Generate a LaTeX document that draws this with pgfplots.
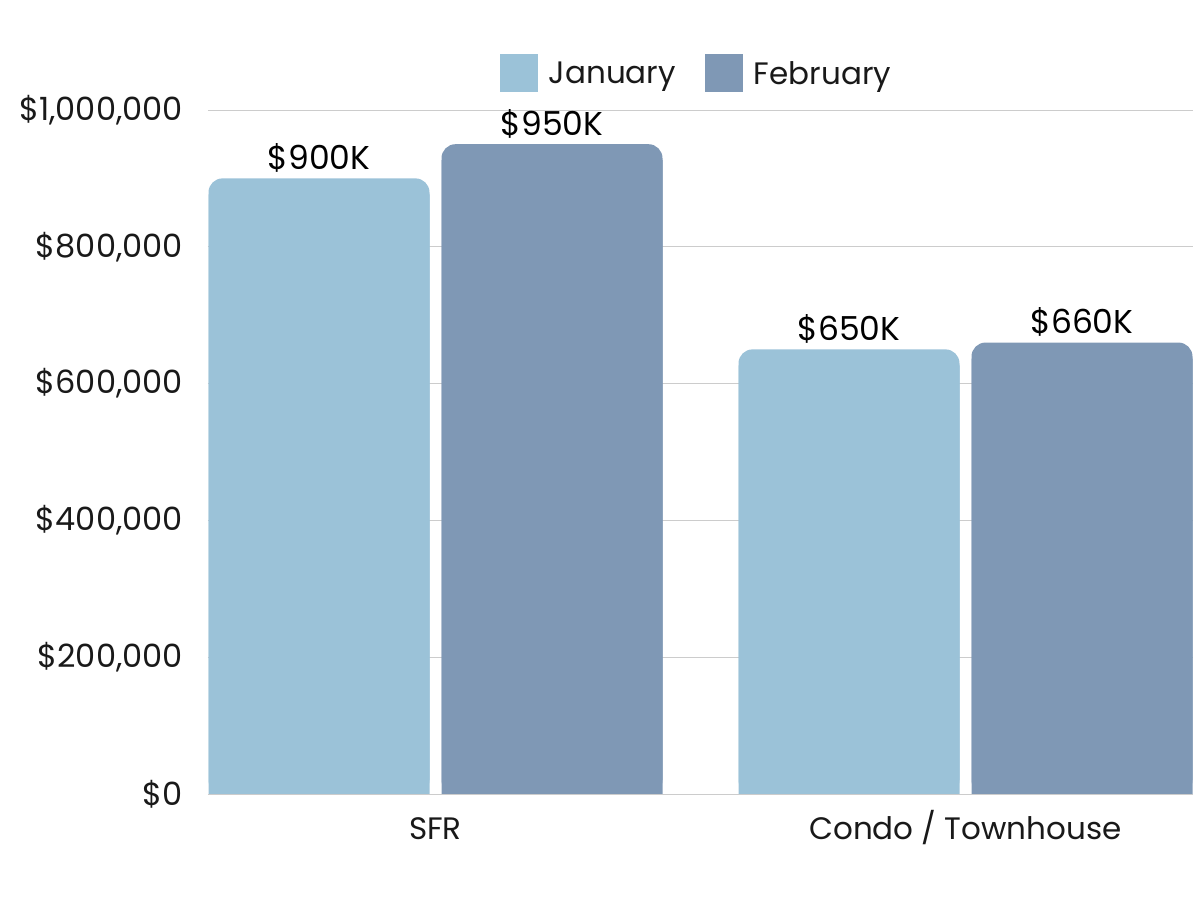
\documentclass[border=0pt]{standalone}
\usepackage{pgfplots}
\pgfplotsset{compat=1.18}
\usepackage{fontspec}
\setmainfont{Poppins}
\definecolor{jan}{RGB}{155,194,216}
\definecolor{feb}{RGB}{127,152,181}
\definecolor{txt}{RGB}{25,25,25}
\newcommand{\lab}{\fontsize{31}{36}\selectfont}
\newcommand{\tlab}{\fontsize{32}{37}\selectfont}
\newcommand{\blab}{\fontsize{33}{38}\selectfont}
\begin{document}
\begin{tikzpicture}[x=1pt,y=1pt]
\useasboundingbox (0,0) rectangle (1200,900);
\begin{axis}[
  at={(208pt,106pt)}, anchor=south west,
  scale only axis, width=985pt, height=684pt,
  xmin=-0.42925, xmax=1.42925,
  ymin=0, ymax=1000000,
  ybar, bar width=221pt,
  axis line style={draw=none},
  major tick length=0pt,
  xtick={0,1}, xticklabels={SFR, Condo / Townhouse},
  ytick={0,200000,400000,600000,800000,1000000},
  yticklabels={{\$0},{\$200,000},{\$400,000},{\$600,000},{\$800,000},{\$1,000,000}},
  scaled y ticks=false,
  ticklabel style={text=txt, inner sep=0pt},
  yticklabel style={font=\tlab, anchor=east, xshift=-25pt},
  xticklabel style={font=\lab, anchor=base, yshift=-46pt},
  ymajorgrids, grid style={color=gray!40, line width=0.8pt},
  legend image code/.code={\fill[#1, sharp corners] (0pt,-19pt) rectangle (38pt,19pt);},
  legend style={at={(0.5,1)}, anchor=center, xshift=-5pt, yshift=36.5pt,
    draw=none, fill=none, font=\lab, legend columns=2,
    nodes={inner sep=0pt, text=txt},
    /tikz/every odd column/.append style={column sep=11pt},
    /tikz/every even column/.append style={column sep=29pt}},
  nodes near coords style={font=\blab, text=black, anchor=base, inner sep=0pt, yshift=9pt},
  point meta=explicit symbolic,
]
% square-cornered copies, lowered so that only the bar feet show below the rounded tops
\addplot[forget plot, fill=jan, draw=none, bar shift=-116.5pt, yshift=-16pt]
  coordinates {(0,900000) (1,650000)};
\addplot[fill=jan, draw=none, bar shift=-116.5pt, rounded corners=14pt, nodes near coords]
  coordinates {(0,900000) [\$900K] (1,650000) [\$650K]};
\addlegendentry{January}
\addplot[forget plot, fill=feb, draw=none, bar shift=116.5pt, yshift=-16pt]
  coordinates {(0,950000) (1,660000)};
\addplot[fill=feb, draw=none, bar shift=116.5pt, rounded corners=14pt, nodes near coords]
  coordinates {(0,950000) [\$950K] (1,660000) [\$660K]};
\addlegendentry{February}
\draw[color=gray!75, line width=0.8pt] (rel axis cs:0,0) -- (rel axis cs:1,0);
\end{axis}
\end{tikzpicture}
\end{document}
